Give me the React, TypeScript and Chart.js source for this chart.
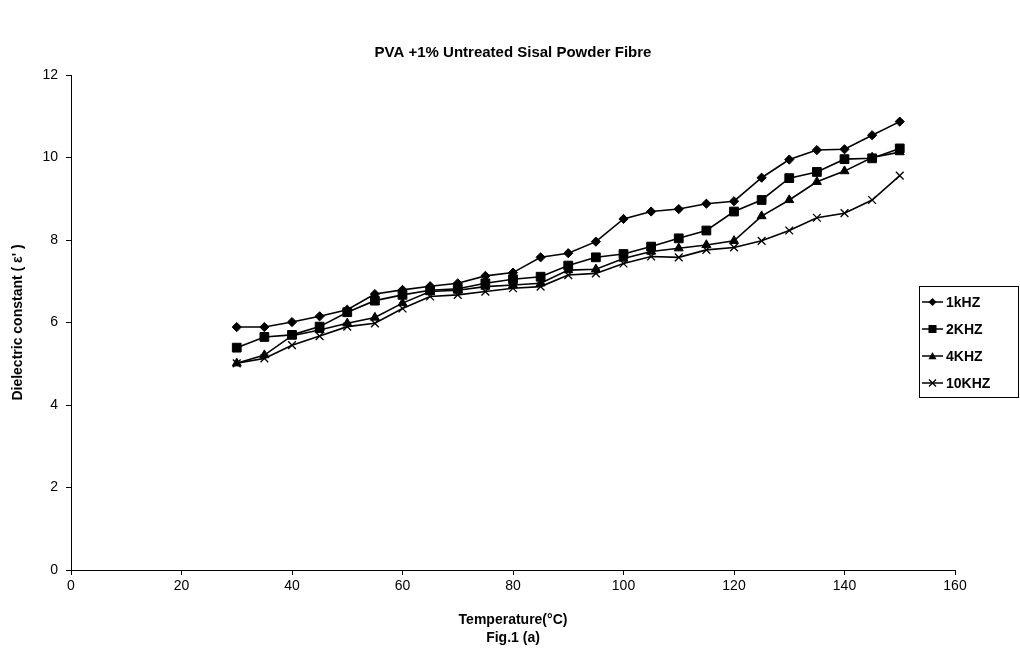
import React, { useEffect, useRef } from 'react';
import { Chart, registerables } from 'chart.js';

Chart.register(...registerables);

const titleText = 'PVA +1% Untreated Sisal Powder Fibre';
const yTitle = "Dielectric constant ( ε' )";
const xTitleLines = ['Temperature(°C)', 'Fig.1 (a)'];

const temperatures = [30, 35, 40, 45, 50, 55, 60, 65, 70, 75, 80, 85, 90, 95, 100, 105, 110, 115, 120, 125, 130, 135, 140, 145, 150];

const seriesNames = ['1kHZ', '2KHZ', '4KHZ', '10KHZ'];

const k1 = [5.89, 5.89, 6.01, 6.15, 6.31, 6.69, 6.79, 6.88, 6.95, 7.13, 7.21, 7.58, 7.68, 7.96, 8.51, 8.69, 8.75, 8.88, 8.94, 9.51, 9.95, 10.18, 10.2, 10.54, 10.87];
const k2 = [5.39, 5.65, 5.7, 5.9, 6.25, 6.53, 6.67, 6.78, 6.82, 6.95, 7.05, 7.11, 7.38, 7.58, 7.66, 7.84, 8.04, 8.23, 8.69, 8.97, 9.5, 9.65, 9.96, 9.98, 10.22];
const k4 = [5.01, 5.21, 5.68, 5.82, 5.98, 6.12, 6.47, 6.75, 6.78, 6.87, 6.91, 6.95, 7.27, 7.29, 7.55, 7.72, 7.8, 7.88, 7.98, 8.58, 8.97, 9.41, 9.67, 10.0, 10.13];
const k10 = [5.01, 5.13, 5.45, 5.67, 5.9, 5.98, 6.34, 6.63, 6.67, 6.75, 6.83, 6.87, 7.15, 7.19, 7.43, 7.6, 7.58, 7.76, 7.82, 7.98, 8.23, 8.54, 8.65, 8.97, 9.56];

const seriesValues = [k1, k2, k4, k10];
const markerStyles = ['rectRot', 'rect', 'triangle', 'crossRot'];
const markerRadii = [4.6, 6.2, 5.2, 5.5];

const FONT = "'Liberation Sans', Arial, sans-serif";

function drawMarker(ctx: CanvasRenderingContext2D, style: string, x: number, y: number, r: number) {
  ctx.save();
  ctx.fillStyle = '#000';
  ctx.strokeStyle = '#000';
  ctx.lineWidth = 1.3;
  ctx.beginPath();
  if (style === 'rectRot') {
    ctx.moveTo(x, y - r);
    ctx.lineTo(x + r, y);
    ctx.lineTo(x, y + r);
    ctx.lineTo(x - r, y);
    ctx.closePath();
    ctx.fill();
  } else if (style === 'rect') {
    ctx.rect(x - r, y - r, 2 * r, 2 * r);
    ctx.fill();
  } else if (style === 'triangle') {
    ctx.moveTo(x, y - r);
    ctx.lineTo(x + r, y + r * 0.8);
    ctx.lineTo(x - r, y + r * 0.8);
    ctx.closePath();
    ctx.fill();
  } else {
    ctx.moveTo(x - r, y - r);
    ctx.lineTo(x + r, y + r);
    ctx.moveTo(x + r, y - r);
    ctx.lineTo(x - r, y + r);
    ctx.stroke();
  }
  ctx.restore();
}

const boxLegend = {
  id: 'boxLegend',
  afterDraw(chart: any) {
    const ctx: CanvasRenderingContext2D = chart.ctx;
    const left = 919;
    const top = 286;
    const w = 99;
    const h = 111;
    ctx.save();
    ctx.fillStyle = '#fff';
    ctx.fillRect(left, top, w, h);
    ctx.strokeStyle = '#000';
    ctx.lineWidth = 1;
    ctx.strokeRect(left + 0.5, top + 0.5, w, h);
    const rows = [302, 329, 356, 383];
    seriesNames.forEach((name, i) => {
      const y = rows[i];
      ctx.strokeStyle = '#000';
      ctx.lineWidth = 1.5;
      ctx.beginPath();
      ctx.moveTo(922, y);
      ctx.lineTo(943, y);
      ctx.stroke();
      drawMarker(ctx, markerStyles[i], 932.5, y, i === 3 ? 3.5 : 4);
      ctx.fillStyle = '#000';
      ctx.font = `bold 14px ${FONT}`;
      ctx.textBaseline = 'middle';
      ctx.textAlign = 'left';
      ctx.fillText(name, 946, y + 1);
    });
    ctx.restore();
  },
};

export default function App() {
  const ref = useRef<HTMLCanvasElement>(null);

  useEffect(() => {
    if (!ref.current) return;
    const datasets = seriesNames.map((name, i) => ({
      label: name,
      data: temperatures.map((t, j) => ({ x: t, y: seriesValues[i][j] })),
      borderColor: '#000',
      backgroundColor: '#000',
      borderWidth: 1.6,
      pointStyle: markerStyles[i] as any,
      pointRadius: markerRadii[i],
      pointBorderWidth: i === 3 ? 1.3 : 1,
      pointBackgroundColor: '#000',
      pointBorderColor: '#000',
      tension: 0,
      fill: false,
    }));

    const chart = new Chart(ref.current, {
      type: 'line',
      data: { datasets },
      plugins: [boxLegend],
      options: {
        animation: false,
        responsive: false,
        maintainAspectRatio: false,
        layout: { padding: { left: 6, right: 0, top: 0, bottom: 3 } },
        plugins: {
          legend: { display: false },
          tooltip: { enabled: false },
          title: {
            display: true,
            text: titleText,
            color: '#000',
            font: { family: FONT, size: 15, weight: 'bold', lineHeight: 1.2 },
            padding: { top: 44, bottom: 13 },
          },
        },
        scales: {
          x: {
            type: 'linear',
            min: 0,
            max: 160,
            afterFit: (scale: any) => {
              scale.height = 77;
            },
            ticks: {
              stepSize: 20,
              color: '#000',
              font: { family: FONT, size: 14 },
              padding: 3,
              maxRotation: 0,
            },
            grid: { drawOnChartArea: false, color: '#000', tickLength: 5 },
            border: { color: '#000', width: 1 },
            title: {
              display: true,
              text: xTitleLines,
              color: '#000',
              font: { family: FONT, size: 14, weight: 'bold', lineHeight: 1.286 },
              padding: { top: 4, bottom: 0 },
            },
          },
          y: {
            type: 'linear',
            min: 0,
            max: 12,
            afterFit: (scale: any) => {
              scale.width = 65;
            },
            ticks: {
              stepSize: 2,
              color: '#000',
              font: { family: FONT, size: 14 },
              padding: 8,
            },
            grid: { drawOnChartArea: false, color: '#000', tickLength: 5 },
            border: { color: '#000', width: 1 },
            title: {
              display: true,
              text: yTitle,
              color: '#000',
              font: { family: FONT, size: 14, weight: 'bold', lineHeight: 1.2 },
              padding: { top: 4, bottom: 4 },
            },
          },
          yRightSpace: {
            type: 'linear',
            position: 'right',
            min: 0,
            max: 12,
            afterFit: (scale: any) => {
              scale.width = 65;
            },
            ticks: { display: false },
            grid: { display: false, drawTicks: false },
            border: { display: false },
          },
        },
      },
    });
    return () => chart.destroy();
  }, []);

  return (
    <div style={{ position: 'absolute', left: 0, top: 0, width: 1020, height: 650, background: '#fff' }}>
      <canvas ref={ref} width={1020} height={650} style={{ display: 'block', width: 1020, height: 650 }} />
    </div>
  );
}
